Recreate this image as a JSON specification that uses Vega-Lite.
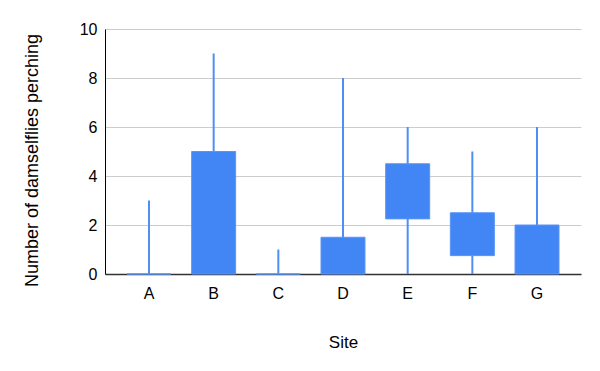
{
  "$schema": "https://vega.github.io/schema/vega-lite/v6.json",
  "autosize": {"type": "none"},
  "width": 476,
  "height": 245,
  "padding": {"left": 105, "top": 29, "right": 19, "bottom": 97},
  "background": "white",
  "config": {
    "view": {"stroke": null},
    "font": "Liberation Sans"
  },
  "data": {
    "values": [
      {"site": "A", "low": 0, "open": 0, "close": 0, "high": 3},
      {"site": "B", "low": 0, "open": 0, "close": 5, "high": 9},
      {"site": "C", "low": 0, "open": 0, "close": 0, "high": 1},
      {"site": "D", "low": 0, "open": 0, "close": 1.5, "high": 8},
      {"site": "E", "low": 0, "open": 2.25, "close": 4.5, "high": 6},
      {"site": "F", "low": 0, "open": 0.75, "close": 2.5, "high": 5},
      {"site": "G", "low": 0, "open": 0, "close": 2, "high": 6}
    ]
  },
  "encoding": {
    "x": {
      "field": "site",
      "type": "nominal",
      "scale": {"paddingInner": 0.32, "paddingOuter": 0.34},
      "axis": {
        "title": "Site",
        "titleFontSize": 17,
        "titleFontWeight": "normal",
        "titleColor": "#000",
        "titleY": 68,
        "titleBaseline": "middle",
        "labelAngle": 0,
        "labelFontSize": 16,
        "labelColor": "#000",
        "labelPadding": 11,
        "ticks": false,
        "domainColor": "#333",
        "domainWidth": 1.5,
        "grid": false
      }
    }
  },
  "layer": [
    {
      "mark": {"type": "rule", "color": "#4f8ef5", "strokeWidth": 2},
      "encoding": {
        "y": {
          "field": "low",
          "type": "quantitative",
          "scale": {"domain": [0, 10]},
          "axis": {
            "title": "Number of damselflies perching",
            "titleFontSize": 18,
            "titleFontWeight": "normal",
            "titleColor": "#000",
            "titleX": -73,
            "titleY": 131,
            "titleBaseline": "middle",
            "values": [0, 2, 4, 6, 8, 10],
            "labelFontSize": 16,
            "labelColor": "#000",
            "labelPadding": 8,
            "ticks": false,
            "domainColor": "#000",
            "gridColor": "#cccccc",
            "gridWidth": 1
          }
        },
        "y2": {"field": "high"}
      }
    },
    {
      "mark": {"type": "bar", "color": "#4285f4", "stroke": "#5a95f5", "strokeWidth": 1},
      "encoding": {
        "y": {"field": "open", "type": "quantitative"},
        "y2": {"field": "close"}
      }
    }
  ]
}
